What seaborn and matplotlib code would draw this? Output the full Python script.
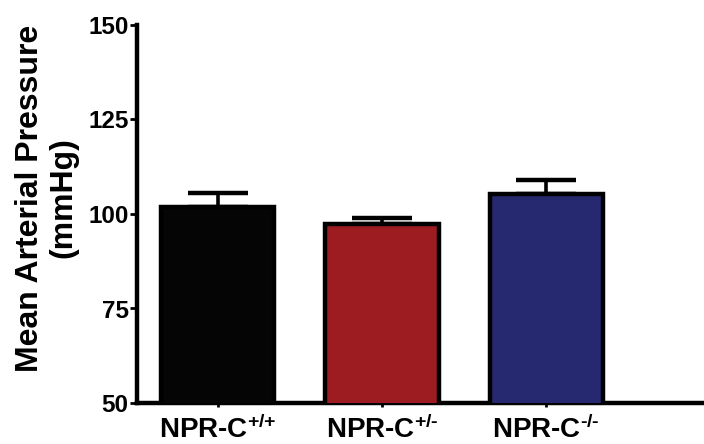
import matplotlib
matplotlib.use("Agg")
import matplotlib.pyplot as plt
import seaborn as sns
import pandas as pd
import numpy as np

genotypes = [r"NPR-C$^{\text{+/+}}$", r"NPR-C$^{\text{+/-}}$", r"NPR-C$^{\text{-/-}}$"]
mean_pressure = [101.9, 97.4, 105.2]
sem_pressure = [3.7, 1.5, 3.8]
bar_colors = ["#050505", "#9c1c22", "#262870"]
y_ticks = [50, 75, 100, 125, 150]

sns.set_theme(style="ticks")
plt.rcParams["font.family"] = ["Liberation Sans", "DejaVu Sans"]
plt.rcParams["font.weight"] = "bold"
plt.rcParams["text.color"] = "black"
plt.rcParams["axes.labelcolor"] = "black"
plt.rcParams["xtick.color"] = "black"
plt.rcParams["ytick.color"] = "black"
plt.rcParams["mathtext.fontset"] = "custom"
plt.rcParams["mathtext.rm"] = "Liberation Sans:bold"
plt.rcParams["mathtext.it"] = "Liberation Sans:bold"
plt.rcParams["mathtext.bf"] = "Liberation Sans:bold"
plt.rcParams["mathtext.default"] = "rm"

df = pd.DataFrame({"genotype": genotypes, "pressure": mean_pressure})

fig = plt.figure(figsize=(7.04, 4.44), dpi=100)
ax = fig.add_axes([137 / 704, 41 / 444, 1 - 137 / 704, (403 - 25) / 444])

sns.barplot(data=df, x="genotype", y="pressure", hue="genotype",
            palette=bar_colors, width=0.69, errorbar=None, legend=False,
            edgecolor="black", linewidth=3.2, saturation=1, ax=ax, zorder=3)

xs = np.arange(len(genotypes))
ax.errorbar(xs, mean_pressure, yerr=[np.zeros(len(xs)), sem_pressure],
            fmt="none", ecolor="black", elinewidth=2.6, capsize=21.5,
            capthick=3.2, zorder=2)

ax.set_ylim(50, 150)
ax.set_xlim(-0.49, 2.96)
ax.set_yticks(y_ticks)
ax.set_yticklabels([str(t) for t in y_ticks], fontsize=17.5, fontweight="bold",
                   color="black")
ax.set_xticks(xs)
ax.set_xticklabels(genotypes, fontsize=20, fontweight="bold", color="black")
ax.set_xlabel("")
ax.set_ylabel("")

for side in ["top", "right"]:
    ax.spines[side].set_visible(False)
for side in ["left", "bottom"]:
    ax.spines[side].set_linewidth(3.2)
    ax.spines[side].set_color("black")
ax.tick_params(axis="y", direction="out", length=5, width=2, pad=1, colors="black")
ax.tick_params(axis="x", direction="out", length=3, width=2, pad=6, colors="black")
ax.set_facecolor("white")

fig.text(47 / 704, 1 - 198 / 444, "Mean Arterial Pressure\n(mmHg)",
         rotation=90, ha="center", va="center", multialignment="center",
         fontsize=23, fontweight="bold", linespacing=1.15, color="black")

fig.savefig("out.png", dpi=100, facecolor="white")
